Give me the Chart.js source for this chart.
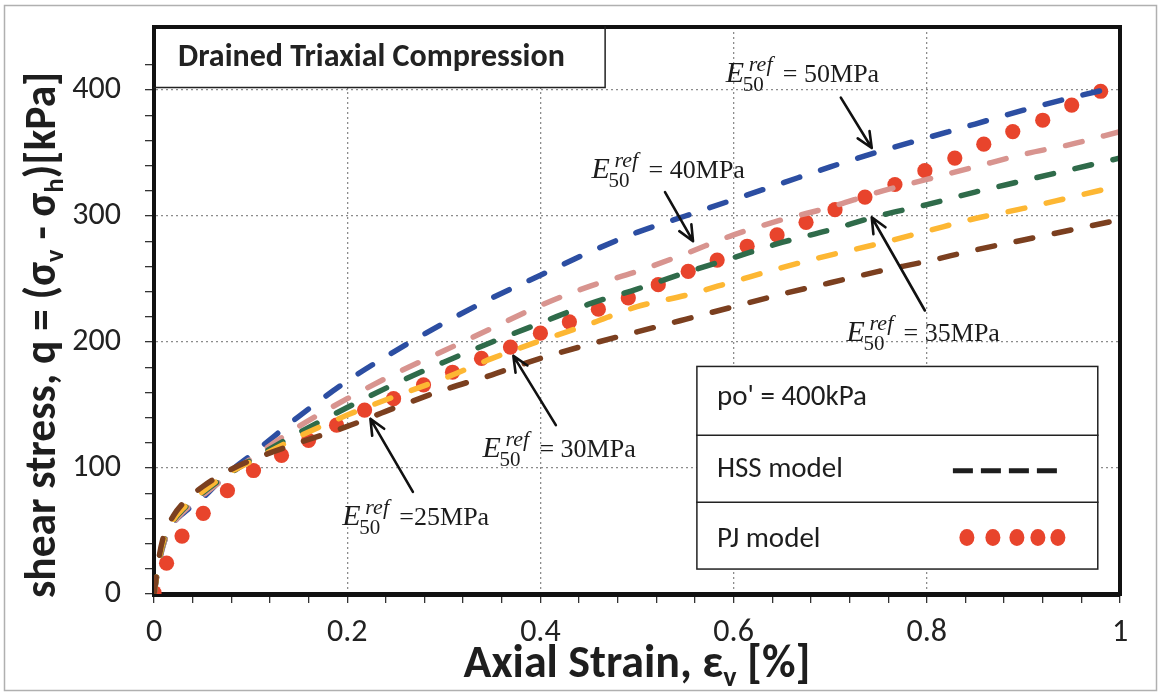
<!DOCTYPE html>
<html>
<head>
<meta charset="utf-8">
<script src="https://cdn.jsdelivr.net/npm/chart.js@4.4.1/dist/chart.umd.min.js"></script>
<style>
  html, body { margin: 0; padding: 0; background: #fff; }
  #wrap { width: 1161px; height: 695px; }
</style>
</head>
<body>
<div id="wrap"><canvas id="c" width="1161" height="695"></canvas></div>
<script>
// Axial strain [%] at which the HSS model curves are sampled
const strain = [0, 0.005, 0.01, 0.02, 0.03, 0.05, 0.075, 0.1, 0.15, 0.2, 0.25, 0.3, 0.35, 0.4, 0.45,
                0.5, 0.55, 0.6, 0.65, 0.7, 0.75, 0.8, 0.85, 0.9, 0.95, 1.0];
// HSS model shear stress q [kPa] for each E50ref
const hss50 = [0, 24, 40, 56, 64, 76, 95, 110, 141, 169, 193, 215, 235, 253, 271, 287, 300, 313, 326, 339, 351, 362, 373, 384, 394, 403];
const hss40 = [0, 24, 40, 56, 65, 78, 93, 107, 133, 155, 175, 193, 211, 229, 244, 256, 270, 285, 297, 307, 319, 329, 339, 349, 357, 367];
const hss35 = [0, 25, 42, 58, 67, 80, 94, 106, 128, 148, 167, 184, 200, 215, 230, 242, 255, 267, 279, 289, 300, 309, 319, 328, 337, 346];
const hss30 = [0, 26, 43, 59, 68, 81, 95, 105, 125, 142, 157, 171, 187, 201, 214, 228, 237, 248, 259, 269, 278, 288, 298, 306, 315, 324];
const hss25 = [0, 28, 46, 62, 72, 85, 97, 106, 120, 133, 148, 162, 174, 187, 198, 208, 218, 228, 238, 247, 256, 264, 273, 281, 289, 297];

// PJ model points
const pjStrain = [0, 0.013, 0.029, 0.051, 0.076, 0.103, 0.132, 0.16, 0.189, 0.218, 0.248, 0.279, 0.309, 0.339, 0.369,
                  0.4, 0.43, 0.46, 0.491, 0.522, 0.553, 0.583, 0.614, 0.645, 0.675, 0.705, 0.736, 0.767, 0.798,
                  0.829, 0.859, 0.889, 0.92, 0.95, 0.98];
const pjStress = [1, 24.5, 46, 64, 82, 98, 110, 122, 134, 146, 155, 166, 176, 187, 196,
                  207, 216, 226, 235, 245.5, 256, 265, 276, 285, 295, 305, 315, 325, 336,
                  346, 357, 367, 376, 388, 399];

// Tick labels
const xTickLabels = ['0', '0.2', '0.4', '0.6', '0.8', '1'];
const yTickLabels = ['0', '100', '200', '300', '400'];

// Callout texts for the E50ref curves
const stiffnessLabels = ['= 50MPa', '= 40MPa', '= 35MPa', '= 30MPa', '=25MPa'];

const SANS = "Carlito, Lato, 'Open Sans', sans-serif";
const SERIF = "'Liberation Serif', 'DejaVu Serif', serif";

// Callout placement in data units: text anchor, arrow tail, arrow head
const calloutLayout = [
  { tx: 0.592, tq: 406, from: [0.711, 394], to: [0.743, 354] },
  { tx: 0.453, tq: 330, from: [0.529, 319], to: [0.558, 280] },
  { tx: 0.717, tq: 201, from: [0.798, 225], to: [0.743, 299] },
  { tx: 0.340, tq: 109, from: [0.416, 134], to: [0.372, 189] },
  { tx: 0.195, tq: 55,  from: [0.268, 81],  to: [0.224, 139] }
];

const pairs = (xs, ys) => xs.map((x, i) => ({ x: x, y: ys[i] }));
const isMajorX = v => Math.abs(v * 5 - Math.round(v * 5)) < 1e-6;
const isMajorY = v => Math.abs(v / 100 - Math.round(v / 100)) < 1e-6;

const hssLine = (label, ys, color) => ({
  label: label,
  data: pairs(strain, ys),
  showLine: true,
  borderColor: color,
  backgroundColor: color,
  borderWidth: 5.5,
  borderDash: [17, 22],
  borderCapStyle: 'round',
  pointRadius: 0,
  pointHoverRadius: 0,
  fill: false,
  cubicInterpolationMode: 'monotone'
});

// Draws text runs (main text and subscripts) left to right from x
function drawRuns(ctx, runs, x, y) {
  ctx.textAlign = 'left';
  ctx.textBaseline = 'alphabetic';
  runs.forEach(r => {
    ctx.font = r.f;
    ctx.fillText(r.t, x, y + (r.dy || 0));
    x += ctx.measureText(r.t).width;
  });
}

function runsWidth(ctx, runs) {
  return runs.reduce((w, r) => { ctx.font = r.f; return w + ctx.measureText(r.t).width; }, 0);
}

function drawE50(ctx, x, y, rest) {
  ctx.fillStyle = '#1c1c1c';
  ctx.textAlign = 'left';
  ctx.textBaseline = 'alphabetic';
  ctx.font = `italic 30px ${SERIF}`;
  ctx.fillText('E', x, y);
  ctx.font = `italic 22px ${SERIF}`;
  ctx.fillText('ref', x + 23, y - 11);
  ctx.font = `21px ${SERIF}`;
  ctx.fillText('50', x + 17, y + 9);
  ctx.font = `26px ${SERIF}`;
  ctx.fillText(rest, x + 57, y);
}

function drawArrow(ctx, x1, y1, x2, y2) {
  const a = Math.atan2(y2 - y1, x2 - x1), L = 17, w = 0.42;
  ctx.strokeStyle = '#111';
  ctx.lineWidth = 2.6;
  ctx.lineCap = 'round';
  ctx.lineJoin = 'round';
  ctx.beginPath();
  ctx.moveTo(x1, y1);
  ctx.lineTo(x2, y2);
  ctx.moveTo(x2 - L * Math.cos(a - w), y2 - L * Math.sin(a - w));
  ctx.lineTo(x2, y2);
  ctx.lineTo(x2 - L * Math.cos(a + w), y2 - L * Math.sin(a + w));
  ctx.stroke();
}

const decorations = {
  id: 'decorations',
  beforeDraw(chart) {
    const { ctx, width, height } = chart;
    ctx.save();
    ctx.fillStyle = '#fff';
    ctx.fillRect(0, 0, width, height);
    ctx.strokeStyle = '#b0b0b0';
    ctx.lineWidth = 1.5;
    ctx.strokeRect(4.5, 5.5, width - 9, height - 10);
    ctx.restore();
  },
  afterDraw(chart) {
    const { ctx, chartArea: ca } = chart;
    const sx = chart.scales.x, sy = chart.scales.y;
    const px = v => sx.getPixelForValue(v), py = v => sy.getPixelForValue(v);
    ctx.save();

    // top and right frame of the plot area
    ctx.strokeStyle = '#111';
    ctx.lineWidth = 4;
    ctx.lineCap = 'square';
    ctx.beginPath();
    ctx.moveTo(ca.left, ca.top);
    ctx.lineTo(ca.right, ca.top);
    ctx.lineTo(ca.right, ca.bottom);
    ctx.stroke();

    // title box
    const tbR = px(0.467), tbB = py(402);
    ctx.fillStyle = '#fff';
    ctx.fillRect(ca.left + 2, ca.top + 2, tbR - ca.left - 2, tbB - ca.top - 2);
    ctx.strokeStyle = '#222';
    ctx.lineWidth = 1.5;
    ctx.beginPath();
    ctx.moveTo(tbR, ca.top);
    ctx.lineTo(tbR, tbB);
    ctx.lineTo(ca.left, tbB);
    ctx.stroke();
    ctx.fillStyle = '#222';
    ctx.font = `bold 32px ${SANS}`;
    ctx.textAlign = 'left';
    ctx.textBaseline = 'middle';
    ctx.fillText('Drained Triaxial Compression', ca.left + 24, (ca.top + tbB) / 2 + 1);

    // legend box
    const lL = px(0.562), lR = px(0.977);
    const rows = [py(180.6), py(125.9), py(72.9), py(19.8)];
    ctx.fillStyle = '#fff';
    ctx.fillRect(lL, rows[0], lR - lL, rows[3] - rows[0]);
    ctx.strokeStyle = '#222';
    ctx.lineWidth = 1.5;
    ctx.strokeRect(lL, rows[0], lR - lL, rows[3] - rows[0]);
    ctx.beginPath();
    ctx.moveTo(lL, rows[1]); ctx.lineTo(lR, rows[1]);
    ctx.moveTo(lL, rows[2]); ctx.lineTo(lR, rows[2]);
    ctx.stroke();
    ctx.fillStyle = '#1e1e1e';
    ctx.font = `29px ${SANS}`;
    ctx.textBaseline = 'middle';
    const mid = i => (rows[i] + rows[i + 1]) / 2;
    ctx.fillText("po' = 400kPa", lL + 20, mid(0) - 3);
    ctx.fillText('HSS model', lL + 20, mid(1) + 1);
    ctx.fillText('PJ model', lL + 20, mid(2) + 4);
    // legend samples
    ctx.strokeStyle = '#1e1e1e';
    ctx.lineWidth = 5;
    ctx.lineCap = 'butt';
    ctx.setLineDash([20, 8]);
    ctx.beginPath();
    ctx.moveTo(lL + 256, mid(1) + 2);
    ctx.lineTo(lL + 360, mid(1) + 2);
    ctx.stroke();
    ctx.setLineDash([]);
    ctx.fillStyle = '#e8442c';
    [270, 296, 320, 341, 361].forEach(o => {
      ctx.beginPath();
      ctx.ellipse(lL + o, mid(2) + 2, 7.5, 8.5, 0, 0, Math.PI * 2);
      ctx.fill();
    });

    // E50ref callouts
    calloutLayout.forEach((c, i) => {
      drawArrow(ctx, px(c.from[0]), py(c.from[1]), px(c.to[0]), py(c.to[1]));
      drawE50(ctx, px(c.tx), py(c.tq), stiffnessLabels[i]);
    });

    // axis titles
    ctx.fillStyle = '#1e1e1e';
    const xTitle = [
      { t: 'Axial Strain, \u03b5', f: `bold 46px ${SANS}` },
      { t: 'v', f: `bold 28px ${SANS}`, dy: 9 },
      { t: ' [%]', f: `bold 46px ${SANS}` }
    ];
    drawRuns(ctx, xTitle, (ca.left + ca.right) / 2 - runsWidth(ctx, xTitle) / 2, ca.bottom + 83);

    const yTitle = [
      { t: 'shear stress, q = (\u03c3', f: `bold 43.5px ${SANS}` },
      { t: 'v', f: `bold 27px ${SANS}`, dy: 8 },
      { t: ' - \u03c3', f: `bold 43.5px ${SANS}` },
      { t: 'h', f: `bold 27px ${SANS}`, dy: 8 },
      { t: ')[kPa]', f: `bold 43.5px ${SANS}` }
    ];
    ctx.save();
    ctx.translate(55, ca.bottom + 4);
    ctx.rotate(-Math.PI / 2);
    drawRuns(ctx, yTitle, 0, 0);
    ctx.restore();

    ctx.restore();
  }
};

const gridColor = major => c => (c.tick && major(c.tick.value)) ? '#8c8c8c' : 'rgba(0,0,0,0)';

new Chart(document.getElementById('c'), {
  type: 'scatter',
  data: {
    datasets: [
      hssLine('E50ref = 25MPa', hss25, '#7b3f1f'),
      hssLine('E50ref = 30MPa', hss30, '#fdb733'),
      hssLine('E50ref = 35MPa', hss35, '#2f6b4a'),
      hssLine('E50ref = 40MPa', hss40, '#d8948f'),
      hssLine('E50ref = 50MPa', hss50, '#2c4ea2'),
      {
        label: 'PJ model',
        data: pairs(pjStrain, pjStress),
        showLine: false,
        pointRadius: 7.6,
        pointHoverRadius: 7.6,
        pointBackgroundColor: '#e8442c',
        pointBorderWidth: 0,
        backgroundColor: '#e8442c'
      }
    ]
  },
  options: {
    responsive: false,
    animation: false,
    events: [],
    layout: { padding: { left: 0, right: 41, top: 27, bottom: 0 } },
    plugins: { legend: { display: false }, tooltip: { enabled: false }, title: { display: false } },
    scales: {
      x: {
        type: 'linear',
        min: 0,
        max: 1,
        afterFit: s => { s.height = 101; s.paddingLeft = 0; s.paddingRight = 0; },
        ticks: {
          stepSize: 0.04,
          autoSkip: false,
          maxRotation: 0,
          padding: 11,
          color: '#222',
          font: { family: SANS, size: 32 },
          callback: v => isMajorX(v) ? xTickLabels[Math.round(v * 5)] : ''
        },
        grid: {
          color: gridColor(isMajorX),
          lineWidth: 1.3,
          tickLength: 9,
          tickColor: '#333',
          tickWidth: 1.3,
          drawTicks: true
        },
        border: { display: true, color: '#111', width: 5, dash: [2, 3] }
      },
      y: {
        type: 'linear',
        min: 0,
        max: 450,
        afterFit: s => { s.width = 154; s.paddingTop = 0; s.paddingBottom = 0; },
        afterBuildTicks: s => { s.ticks = s.ticks.filter(t => t.value <= 440); },
        ticks: {
          stepSize: 20,
          autoSkip: false,
          padding: 24,
          color: '#222',
          font: { family: SANS, size: 32 },
          callback: v => isMajorY(v) ? yTickLabels[Math.round(v / 100)] : ''
        },
        grid: {
          color: gridColor(isMajorY),
          lineWidth: 1.3,
          tickLength: 9,
          tickColor: '#333',
          tickWidth: 1.3,
          drawTicks: true
        },
        border: { display: true, color: '#111', width: 4, dash: [2, 3] }
      }
    }
  },
  plugins: [decorations]
});
</script>
</body>
</html>
